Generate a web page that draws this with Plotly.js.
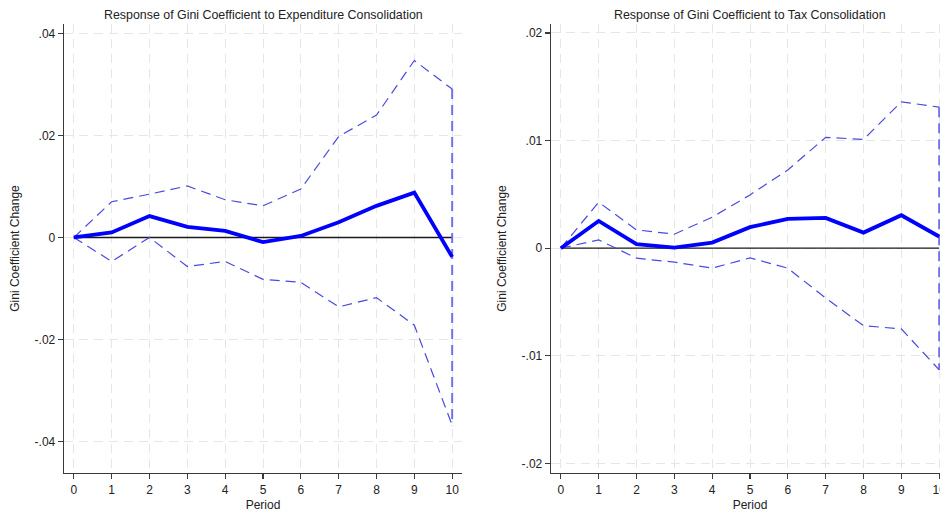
<!DOCTYPE html>
<html>
<head>
<meta charset="utf-8">
<script src="https://cdn.plot.ly/plotly-3.0.1.min.js"></script>
<style>
html,body{margin:0;padding:0;overflow:hidden;background:#fff;}
#chart{width:975px;height:512px;}
</style>
</head>
<body>
<div id="chart"></div>
<script>
// Data
const periods = [0,1,2,3,4,5,6,7,8,9,10];
const expResponse = [0, 0.0010, 0.0042, 0.0021, 0.0013, -0.0009, 0.0003, 0.0030, 0.0062, 0.0088, -0.0038];
const expUpper    = [0, 0.0070, 0.0085, 0.0101, 0.0074, 0.0062, 0.0095, 0.0198, 0.0240, 0.0347, 0.0291];
const expLower    = [0, -0.0047, 0.0000, -0.0057, -0.0047, -0.0082, -0.0088, -0.0136, -0.0118, -0.0172, -0.0368];
const taxResponse = [0, 0.00253, 0.00037, 0.00006, 0.00052, 0.00195, 0.00272, 0.00281, 0.00145, 0.00306, 0.00108];
const taxUpper    = [0, 0.00427, 0.0017, 0.0013, 0.00288, 0.00495, 0.00727, 0.0103, 0.0101, 0.0136, 0.0131];
const taxLower    = [0, 0.00077, -0.00093, -0.0013, -0.00186, -0.0009, -0.00186, -0.00464, -0.0072, -0.0075, -0.0113];
const expYTicks = [-0.04, -0.02, 0, 0.02, 0.04];
const expYLabels = ['-.04', '-.02', '0', '.02', '.04'];
const taxYTicks = [-0.02, -0.01, 0, 0.01, 0.02];
const taxYLabels = ['-.02', '-.01', '0', '.01', '.02'];
const titles = ['Response of Gini Coefficient to Expenditure Consolidation', 'Response of Gini Coefficient to Tax Consolidation'];
const xTitle = 'Period';
const yTitle = 'Gini Coefficient Change';

const W = 975;
const blue = '#0000ff';
const ciColor = '#4a4ae0';
const edgeColor = 'rgba(90,90,235,0.85)';
const zeroColor = '#1a1a1a';
const gridColor = '#e6e6e6';
const axisColor = '#3a3a3a';
const textColor = '#222';

function panel(resp, up, lo, xa, ya) {
  const last = periods[periods.length - 1];
  return [
    {x: [periods[0], last], y: [0, 0], xaxis: xa, yaxis: ya, mode: 'lines', line: {color: zeroColor, width: 1.3}, hoverinfo: 'skip'},
    {x: periods, y: up, xaxis: xa, yaxis: ya, mode: 'lines', line: {color: ciColor, width: 1.2, dash: '10px,6px'}},
    {x: periods, y: lo, xaxis: xa, yaxis: ya, mode: 'lines', line: {color: ciColor, width: 1.2, dash: '10px,6px'}},
    {x: [last, last], y: [up[up.length-1], lo[lo.length-1]], xaxis: xa, yaxis: ya, mode: 'lines', line: {color: edgeColor, width: 2, dash: '10px,6px'}},
    {x: periods, y: resp, xaxis: xa, yaxis: ya, mode: 'lines', line: {color: blue, width: 3.8}}
  ];
}

const data = [].concat(
  panel(expResponse, expUpper, expLower, 'x', 'y'),
  panel(taxResponse, taxUpper, taxLower, 'x2', 'y2')
);

const font = {family: 'Liberation Sans, Arial, Helvetica, sans-serif', size: 12, color: textColor};

function xaxis(domain, anchor) {
  return {
    domain: domain, anchor: anchor, range: [-0.26, 10.26],
    tickvals: periods, ticktext: periods.map(String),
    ticks: 'outside', ticklen: 5, tickwidth: 1.2, tickcolor: axisColor,
    showline: true, linecolor: axisColor, linewidth: 1.3,
    showgrid: true, gridcolor: gridColor, griddash: '9px,6px', gridwidth: 1,
    zeroline: false, tickfont: {size: 12, color: textColor},
    title: {text: xTitle, font: {size: 12, color: textColor}, standoff: 6}
  };
}
function yaxis(domain, anchor, range, tv, tt) {
  return {
    domain: domain, anchor: anchor, range: range,
    tickvals: tv, ticktext: tt,
    ticks: 'outside', ticklen: 5, tickwidth: 1.2, tickcolor: axisColor,
    showline: true, linecolor: axisColor, linewidth: 1.3,
    showgrid: true, gridcolor: gridColor, griddash: '9px,6px', gridwidth: 1,
    zeroline: false, tickfont: {size: 12, color: textColor},
    title: {text: yTitle, font: {size: 12, color: textColor}, standoff: 12}
  };
}

const layout = {
  width: W, height: 512,
  margin: {l: 0, r: 0, t: 24, b: 39},
  paper_bgcolor: '#fff', plot_bgcolor: '#fff',
  showlegend: false, font: font,
  xaxis: xaxis([64/W, 462/W], 'y'),
  yaxis: yaxis([0, 1], 'x', [-0.04618, 0.04186], expYTicks, expYLabels),
  xaxis2: xaxis([551/W, 949/W], 'y2'),
  yaxis2: yaxis([0, 1], 'x2', [-0.02089, 0.02083], taxYTicks, taxYLabels),
  annotations: [
    {text: titles[0], xref: 'paper', yref: 'paper', x: 263/W, y: 1, xanchor: 'center', yanchor: 'bottom', showarrow: false, font: {size: 12.4, color: textColor}},
    {text: titles[1], xref: 'paper', yref: 'paper', x: 750/W, y: 1, xanchor: 'center', yanchor: 'bottom', showarrow: false, font: {size: 12.4, color: textColor}}
  ]
};

Plotly.newPlot('chart', data, layout, {staticPlot: true, displayModeBar: false});
</script>
</body>
</html>
